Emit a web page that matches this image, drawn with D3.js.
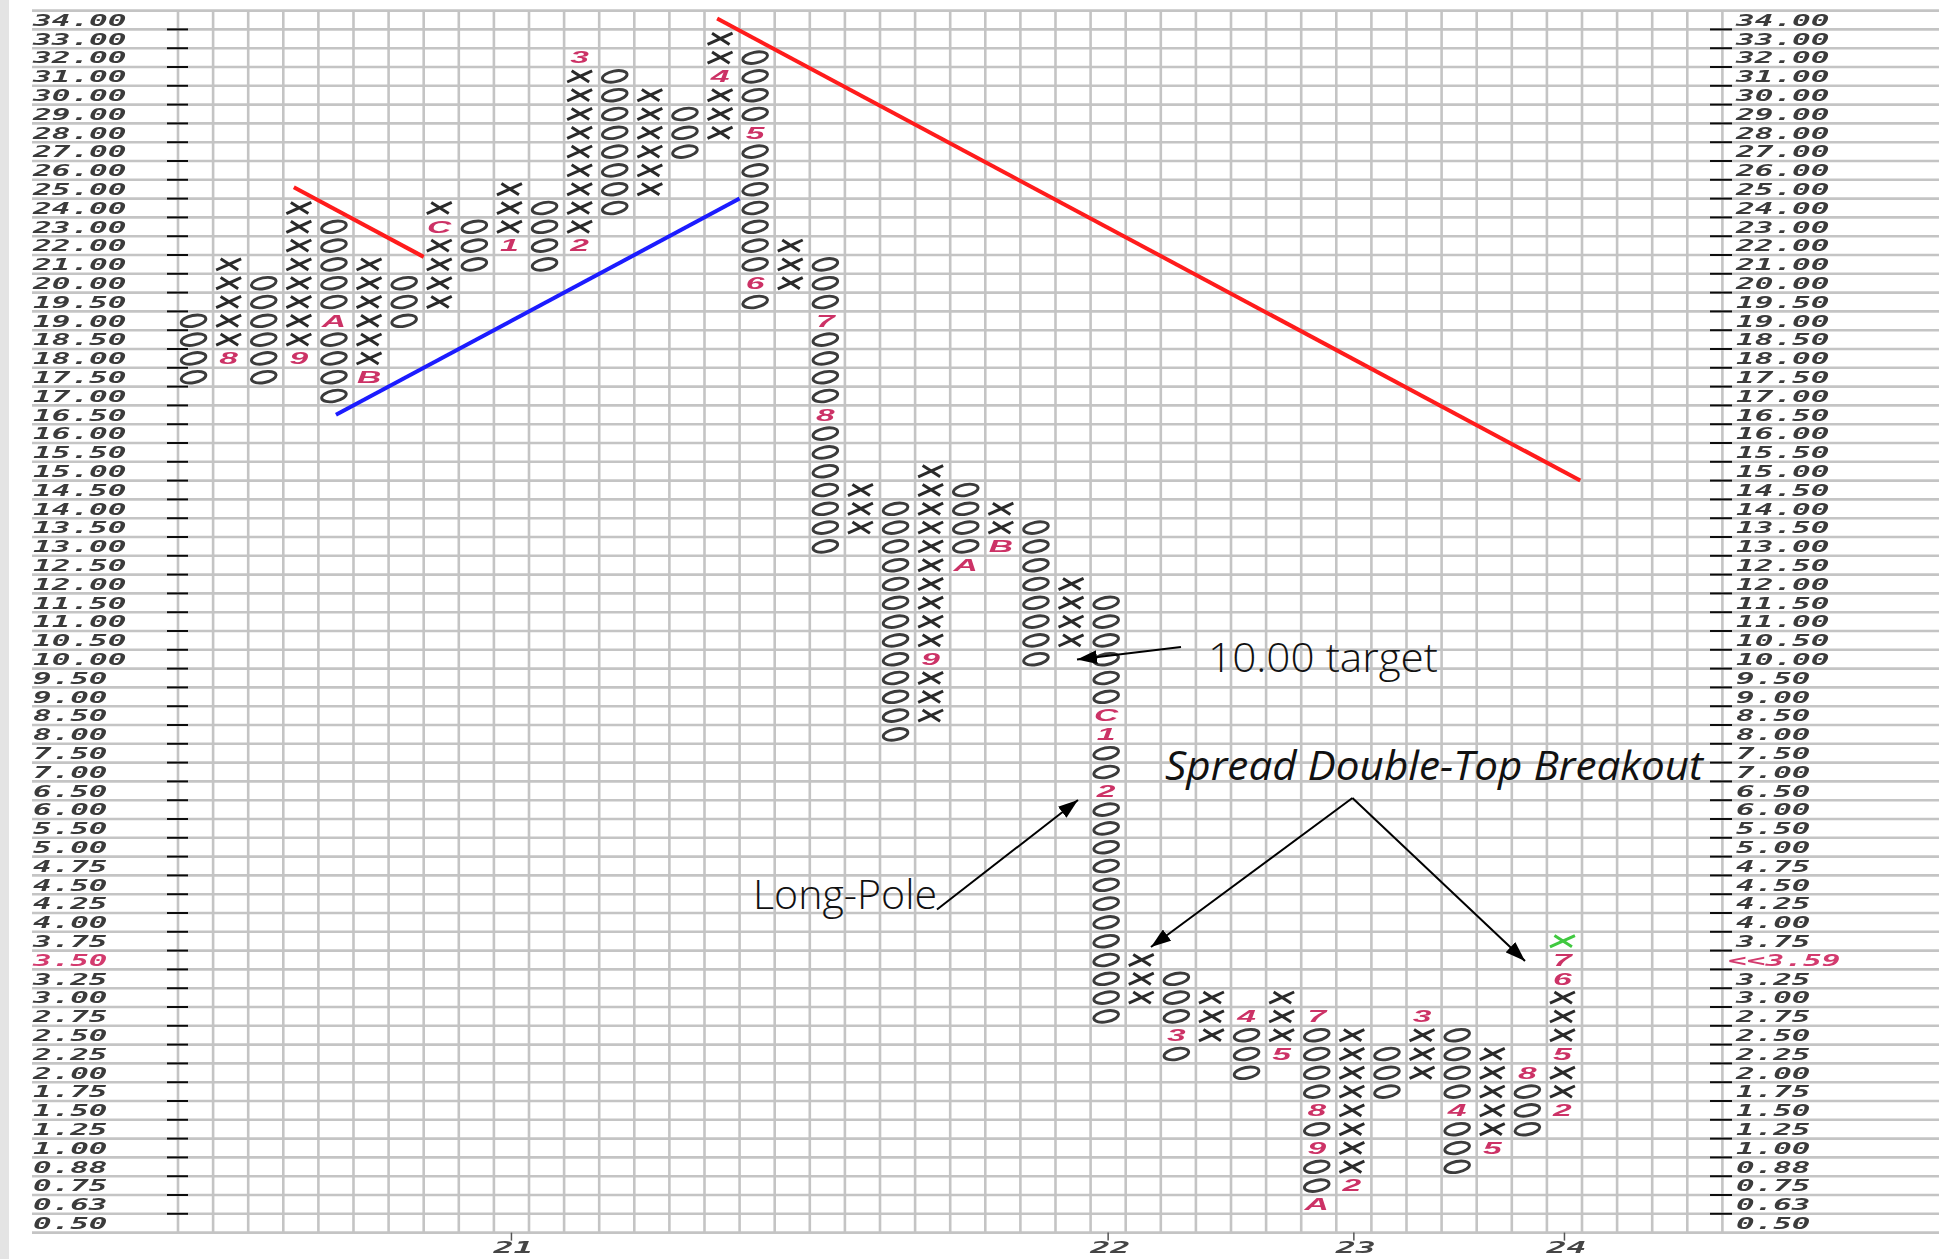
<!DOCTYPE html>
<html><head><meta charset="utf-8">
<script src="https://cdn.jsdelivr.net/npm/d3@7/dist/d3.min.js"></script>
<style>html,body{margin:0;padding:0;background:#fff;overflow:hidden}</style>
</head><body>
<svg id="c" width="1939" height="1259"></svg>
<script>
// ---------- DATA ----------
const priceLabels = ["34.00","33.00","32.00","31.00","30.00","29.00","28.00","27.00","26.00","25.00","24.00","23.00","22.00","21.00","20.00","19.50","19.00","18.50","18.00","17.50","17.00","16.50","16.00","15.50","15.00","14.50","14.00","13.50","13.00","12.50","12.00","11.50","11.00","10.50","10.00","9.50","9.00","8.50","8.00","7.50","7.00","6.50","6.00","5.50","5.00","4.75","4.50","4.25","4.00","3.75","3.50","3.25","3.00","2.75","2.50","2.25","2.00","1.75","1.50","1.25","1.00","0.88","0.75","0.63","0.50"];
const colTypes = ["O","X","O","X","O","X","O","X","O","X","O","X","O","X","O","X","O","X","O","X","O","X","O","X","O","X","O","X","O","X","O","X","O","X","O","X","O","X","O","X"];
const colHigh = ["19.00","21.00","20.00","24.00","23.00","21.00","20.00","24.00","23.00","25.00","24.00","32.00","31.00","30.00","29.00","33.00","32.00","22.00","21.00","14.50","14.00","15.00","14.50","14.00","13.50","12.00","11.50","3.50","3.25","3.00","2.75","3.00","2.75","2.50","2.25","2.75","2.50","2.25","2.00","3.75"];
const colLow  = ["17.50","18.00","17.50","18.00","17.00","17.50","19.00","19.50","21.00","22.00","21.00","22.00","24.00","25.00","27.00","28.00","19.50","20.00","13.00","13.50","8.00","8.50","12.50","13.00","10.00","10.50","2.75","3.00","2.25","2.50","2.00","2.25","0.63","0.75","1.75","2.00","0.88","1.00","1.25","1.50"];
const monthCol   = [1,3,4,5,7,9,11,11,15,16,16,18,18,21,22,23,26,26,26,28,30,31,32,32,32,32,33,35,36,37,38,39,39,39,39];
const monthPrice = ["18.00","18.00","19.00","17.50","23.00","22.00","22.00","32.00","31.00","28.00","20.00","19.00","16.50","10.00","12.50","13.00","8.50","8.00","6.50","2.50","2.75","2.25","2.75","1.50","1.00","0.63","0.75","2.75","1.50","1.00","2.00","1.50","2.25","3.25","3.50"];
const monthLabel = ["8","9","A","B","C","1","2","3","4","5","6","7","8","9","A","B","C","1","2","3","4","5","7","8","9","A","2","3","4","5","8","2","5","6","7"];
const lastBox = {col: 39, price: "3.75"};           // newest box, shown in green
const currentPrice = "3.50", currentPriceText = "<<3.59";
const xTickCols = [9, 26, 33, 39];
const xTickLabels = ["21","22","23","24"];
// trend lines in grid units [column, row] (boundary units)
const trendRedShort = [[3.3, 9.4],[7.0, 13.1]];
const trendBlue     = [[4.5, 21.5],[16.0, 10.0]];
const trendRedLong  = [[15.36, 0.42],[39.95, 25.0]];

// ---------- LAYOUT ----------
const svg = d3.select("#c");
const nCols = 44, gridLeft = 178, colW = 35.1, gridRight = gridLeft + nCols*colW;
const gridTop = 10.6, rowH = 18.8, gridBottom = gridTop + priceLabels.length*rowH;
const x = d3.scaleBand().domain(d3.range(nCols)).range([gridLeft, gridRight]);
const y = d3.scaleBand().domain(priceLabels).range([gridTop, gridBottom]);
const xu = d3.scaleLinear().domain([0, nCols]).range([gridLeft, gridRight]);
const yu = d3.scaleLinear().domain([0, priceLabels.length]).range([gridTop, gridBottom]);

const defs = svg.append("defs");
defs.append("filter").attr("id","soft").attr("x","-2%").attr("y","-2%").attr("width","104%").attr("height","104%")
  .append("feGaussianBlur").attr("stdDeviation", 0.7);
defs.append("marker").attr("id","ah").attr("markerUnits","userSpaceOnUse")
  .attr("markerWidth",22).attr("markerHeight",14).attr("refX",20).attr("refY",7).attr("orient","auto")
  .append("path").attr("d","M0,0L20,7L0,14Z").attr("fill","#000");

svg.append("rect").attr("x",0).attr("y",0).attr("width",1939).attr("height",1259).attr("fill","#fff");
svg.append("rect").attr("x",0).attr("y",0).attr("width",9).attr("height",1259).attr("fill","#e4e4e4");

const chart = svg.append("g").attr("filter","url(#soft)");

// grid
const grid = chart.append("g").attr("stroke","#c4c4c4").attr("stroke-width",2.6);
grid.selectAll("line.h").data(d3.range(priceLabels.length+1)).join("line")
  .attr("x1",32).attr("x2",1939).attr("y1",d=>yu(d)).attr("y2",d=>yu(d));
grid.selectAll("line.v").data(d3.range(nCols+1)).join("line")
  .attr("y1",gridTop).attr("y2",gridBottom).attr("x1",d=>xu(d)).attr("x2",d=>xu(d));

// axis ticks
const ticks = chart.append("g").attr("stroke","#111").attr("stroke-width",2);
ticks.selectAll("line.l").data(d3.range(1, priceLabels.length)).join("line")
  .attr("x1",167).attr("x2",188).attr("y1",d=>yu(d)).attr("y2",d=>yu(d));
ticks.selectAll("line.r").data(d3.range(1, priceLabels.length)).join("line")
  .attr("x1",1710).attr("x2",1732).attr("y1",d=>yu(d)).attr("y2",d=>yu(d));
chart.append("g").attr("stroke","#555").attr("stroke-width",1.5).selectAll("line").data(xTickCols).join("line")
  .attr("x1",d=>x(d)+colW/2).attr("x2",d=>x(d)+colW/2).attr("y1",gridBottom).attr("y2",gridBottom+8);

// price labels
const labFont = "'DejaVu Sans Mono','Liberation Mono',monospace";
function priceText(g, xs, isRight){
  g.selectAll("text").data(priceLabels).join("text")
    .attr("x", d => (isRight && d===currentPrice) ? xs-8 : xs)
    .attr("y", d => y(d)+rowH/2).attr("dy","0.36em")
    .attr("font-family",labFont).attr("font-weight","bold").attr("font-style","italic").attr("font-size",16)
    .attr("fill", d => d===currentPrice ? "#d33a6e" : "#3a3a3a")
    .text(d => (isRight && d===currentPrice) ? currentPriceText : d)
    .attr("textLength", d => ((isRight && d===currentPrice) ? currentPriceText : d).length*19.1 - 2)
    .attr("lengthAdjust","spacingAndGlyphs");
}
priceText(chart.append("g"), 33, false);
priceText(chart.append("g"), 1736, true);

// x labels
chart.append("g").selectAll("text").data(xTickCols).join("text")
  .attr("x",d=>x(d)+colW/2+2).attr("y",1253).attr("text-anchor","middle")
  .attr("font-family",labFont).attr("font-weight","bold").attr("font-style","italic").attr("font-size",15)
  .attr("fill","#444").attr("textLength",40).attr("lengthAdjust","spacingAndGlyphs")
  .text((d,i)=>xTickLabels[i]);

// boxes
const marks = new Map();
monthCol.forEach((c,i)=>marks.set(c+"|"+monthPrice[i], monthLabel[i]));
const boxes = [];
colTypes.forEach((t,c)=>{
  const i0 = priceLabels.indexOf(colHigh[c]), i1 = priceLabels.indexOf(colLow[c]);
  for(let i=i0;i<=i1;i++){
    const p = priceLabels[i];
    boxes.push({col:c, price:p, type:t, mark: marks.get(c+"|"+p),
      green: (c===lastBox.col && p===lastBox.price)});
  }
});
const bx = chart.append("g");
const cells = bx.selectAll("g").data(boxes).join("g")
  .attr("transform", d=>`translate(${x(d.col)+colW/2-2},${y(d.price)+rowH/2})`);
cells.filter(d=>!d.mark && d.type==="O").append("ellipse")
  .attr("rx",12.5).attr("ry",5.4).attr("transform","rotate(-11)")
  .attr("fill","none").attr("stroke","#3a3a3a").attr("stroke-width",2.9);
cells.filter(d=>!d.mark && d.type==="X").append("path")
  .attr("d","M-12.5,5.6L12.5,-5.6M-8,-5.6L9.5,5.6")
  .attr("fill","none").attr("stroke",d=>d.green?"#3fc93f":"#2a2a2a").attr("stroke-width",3);
cells.filter(d=>d.mark).append("text")
  .attr("transform","scale(2.1,1)").attr("text-anchor","middle").attr("dy","0.36em")
  .attr("font-family","'Liberation Sans',Arial,sans-serif").attr("font-weight","bold").attr("font-style","italic")
  .attr("font-size",16).attr("fill","#cc3366").text(d=>d.mark);

// trend lines
const line = d3.line().x(d=>xu(d[0])).y(d=>yu(d[1]));
chart.append("path").attr("d",line(trendRedShort)).attr("stroke","#ff1a1a").attr("stroke-width",4).attr("fill","none");
chart.append("path").attr("d",line(trendBlue)).attr("stroke","#1a1aff").attr("stroke-width",4).attr("fill","none");
chart.append("path").attr("d",line(trendRedLong)).attr("stroke","#ff1a1a").attr("stroke-width",4).attr("fill","none");

// ---------- ANNOTATIONS (grid units) ----------
const annFont = "'Open Sans','Noto Sans',sans-serif";
const ann = svg.append("g");
function arrow(a,b){
  ann.append("line").attr("x1",xu(a[0])).attr("y1",yu(a[1])).attr("x2",xu(b[0])).attr("y2",yu(b[1]))
    .attr("stroke","#000").attr("stroke-width",2).attr("marker-end","url(#ah)");
}
ann.append("text").attr("x",xu(29.345)).attr("y",yu(35.18)).attr("font-family",annFont).attr("font-weight",300)
  .attr("font-size",41).attr("fill","#111").attr("textLength",230).attr("lengthAdjust","spacingAndGlyphs").text("10.00 target");
arrow([28.575,33.85],[25.613,34.516]);
ann.append("text").attr("x",xu(16.382)).attr("y",yu(47.787)).attr("font-family",annFont).attr("font-weight",300)
  .attr("font-size",40).attr("fill","#111").attr("textLength",184).attr("lengthAdjust","spacingAndGlyphs").text("Long-Pole");
arrow([21.624,47.814],[25.641,41.989]);
ann.append("text").attr("x",xu(28.12)).attr("y",yu(40.93)).attr("font-family",annFont).attr("font-style","italic")
  .attr("font-size",40).attr("fill","#111").attr("textLength",538).attr("lengthAdjust","spacingAndGlyphs").text("Spread Double-Top Breakout");
arrow([33.46,41.88],[27.72,49.81]);
arrow([33.46,41.88],[38.376,50.55]);
</script>
</body></html>
